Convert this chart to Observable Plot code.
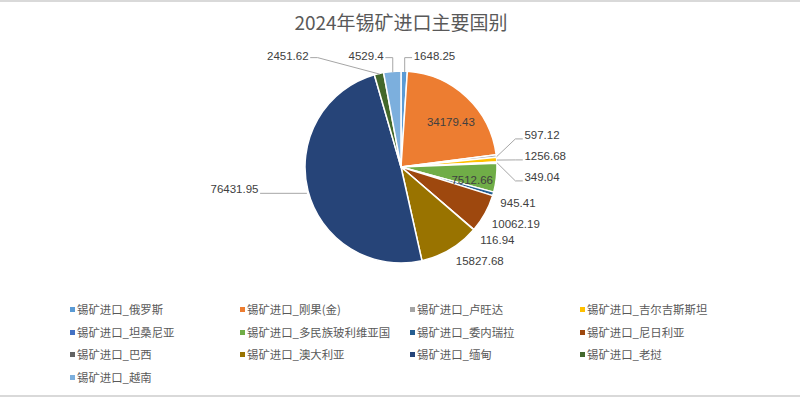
<!DOCTYPE html>
<html><head><meta charset="utf-8">
<script src="https://cdn.jsdelivr.net/npm/d3@7"></script>
<script src="https://cdn.jsdelivr.net/npm/@observablehq/plot@0.6"></script>
<style>
html,body{margin:0;padding:0;background:#fff;}
#wrap{position:relative;width:800px;height:398px;overflow:hidden;background:#fff;}
#topline{position:absolute;left:0;top:0;width:800px;height:2px;background:#d9d9d9;}
#botline{position:absolute;left:0;top:395px;width:800px;height:2px;background:#d9d9d9;}
#title{position:absolute;left:0;top:9px;width:802px;text-align:center;font-family:"Noto Sans CJK SC",sans-serif;font-size:19px;line-height:26px;color:#595959;}
#chart{position:absolute;left:0;top:36px;}
.lg{position:absolute;font-family:"Noto Sans CJK SC",sans-serif;font-size:11.4px;line-height:16px;color:#595959;white-space:nowrap;}
.lg i{position:absolute;left:-7px;top:6px;width:5px;height:5px;}
</style></head>
<body><div id="wrap"><div id="topline"></div><div id="title"></div><div id="chart"></div><div id="legend"></div><div id="botline"></div></div>
<script>
const title = "2024年锡矿进口主要国别";
const categories = ["锡矿进口_俄罗斯","锡矿进口_刚果(金)","锡矿进口_卢旺达","锡矿进口_吉尔吉斯斯坦","锡矿进口_坦桑尼亚","锡矿进口_多民族玻利维亚国","锡矿进口_委内瑞拉","锡矿进口_尼日利亚","锡矿进口_巴西","锡矿进口_澳大利亚","锡矿进口_缅甸","锡矿进口_老挝","锡矿进口_越南"];
const values = [1648.25, 34179.43, 597.12, 1256.68, 349.04, 7512.66, 945.41, 10062.19, 116.94, 15827.68, 76431.95, 2451.62, 4529.4];
const palette = ["#5B9BD5","#ED7D31","#A5A5A5","#FFC000","#4472C4","#70AD47","#255E91","#9E480E","#636363","#997300","#264478","#43682B","#7CAFDD"];
const insideLabeled = ["锡矿进口_刚果(金)","锡矿进口_多民族玻利维亚国"];

document.getElementById("title").textContent = title;

const W = 800, TOP = 36, H = 258;
const R = 96, CX = 401, CY = 167 - TOP;

const rows = categories.map((c, i) => ({name: c, value: values[i], label: String(values[i])}));
const arcs = d3.pie().sort(null).value(d => d.value)(rows);
const color = Plot.scale({color: {type: "ordinal", domain: categories, range: palette}});

const polar = (a, r) => [r * Math.sin(a), -r * Math.cos(a)];
const U = (px, py) => ({x: px / R, y: -py / R});
const textW = s => s.length * 6.39 - (s.includes(".") ? 3.2 : 0);

const labStart = [], labEnd = [], labMid = [], leaders = [];
const topLeft = [], rightGrp = [];
let lid = 0;
const addLeader = pts => { const id = lid++; pts.forEach(p => leaders.push({...U(p[0], p[1]), id})); };

arcs.forEach(a => {
  const m = (a.startAngle + a.endAngle) / 2;
  const deg = m * 180 / Math.PI;
  const d = a.data;
  if (insideLabeled.includes(d.name)) {
    const [px, py] = polar(m, 0.72 * R);
    labMid.push({...U(px + 2, py + 5), text: d.label});
    return;
  }
  const P = polar(m, R);
  if (deg < 20) {
    const ty = -1.16 * R, ly = ty + 1.5, tx = P[0] + 9;
    labStart.push({...U(tx, ty), text: d.label});
    addLeader([P, [P[0], ly], [tx - 2, ly]]);
  } else if (deg > 340) {
    topLeft.push({d, m, P});
  } else if (deg < 100) {
    rightGrp.push({d, m, P});
  } else if (deg < 180) {
    const Q = polar(m, 1.04 * R);
    labStart.push({...U(Q[0] + 3, Q[1] + 8), text: d.label});
  } else {
    const ly = P[1] + 2;
    addLeader([[P[0] - 2, ly], [P[0] - 48, ly]]);
    labEnd.push({...U(P[0] - 50, ly - 4), text: d.label});
  }
});

// top-left cluster: lay out right to left
topLeft.sort((a, b) => b.m - a.m);
let prevStart = Infinity;
topLeft.forEach(({d, P}) => {
  const ty = -1.16 * R, ly = ty + 1.5;
  let end = P[0] - 9, pushed = false;
  if (end > prevStart - 40) { end = prevStart - 40; pushed = true; }
  labEnd.push({...U(end, ty), text: d.label});
  if (pushed) addLeader([[end + 2, ly], [end + 9, ly], P]);
  else addLeader([[end + 2, ly], [P[0], ly], P]);
  prevStart = end - textW(d.label);
});

// right cluster: stacked labels
rightGrp.sort((a, b) => a.m - b.m);
const meanY = d3.mean(rightGrp, g => g.P[1]);
rightGrp.forEach(({d, P}, k) => {
  const ty = meanY - 4 + (k - (rightGrp.length - 1) / 2) * 21;
  const tx = 1.28 * R, ly = ty + 4;
  labStart.push({...U(tx, ty), text: d.label});
  addLeader([P, [tx - 9, ly], [tx - 2, ly]]);
});

function pieMark(index, scales) {
  const sx = scales.x, sy = scales.y;
  const x0 = sx(0), y0 = sy(0), r = sx(1) - sx(0);
  const arc = d3.arc().innerRadius(0).outerRadius(r);
  const g = d3.create("svg:g").attr("transform", `translate(${x0},${y0})`);
  g.selectAll("path").data(arcs).join("path")
    .attr("d", arc)
    .attr("fill", a => color.apply(a.data.name))
    .attr("stroke", "#fff").attr("stroke-width", 1.5).attr("stroke-linejoin", "round");
  return g.node();
}

const font = {fontFamily: "'Liberation Sans', Arial, sans-serif", fontSize: 11.5, fill: "#404040"};
const chart = Plot.plot({
  width: W, height: H,
  margin: 0,
  x: {axis: null, domain: [-CX / R, (W - CX) / R], range: [0, W]},
  y: {axis: null, domain: [-(H - CY) / R, CY / R], range: [H, 0]},
  style: {background: "transparent", overflow: "visible"},
  marks: [
    pieMark,
    Plot.line(leaders, {x: "x", y: "y", z: "id", stroke: "#a6a6a6", strokeWidth: 1, curve: "linear"}),
    Plot.text(labMid, {x: "x", y: "y", text: "text", textAnchor: "middle", ...font}),
    Plot.text(labStart, {x: "x", y: "y", text: "text", textAnchor: "start", ...font}),
    Plot.text(labEnd, {x: "x", y: "y", text: "text", textAnchor: "end", ...font})
  ]
});
document.getElementById("chart").appendChild(chart);

// legend
const legend = document.getElementById("legend");
categories.forEach((c, i) => {
  const col = i % 4, row = Math.floor(i / 4);
  const el = document.createElement("div");
  el.className = "lg";
  el.style.left = (77 + col * 170) + "px";
  el.style.top = (301 + row * 22.7) + "px";
  const sw = document.createElement("i");
  sw.style.background = color.apply(c);
  el.appendChild(sw);
  el.appendChild(document.createTextNode(c));
  legend.appendChild(el);
});
</script>
</body></html>
